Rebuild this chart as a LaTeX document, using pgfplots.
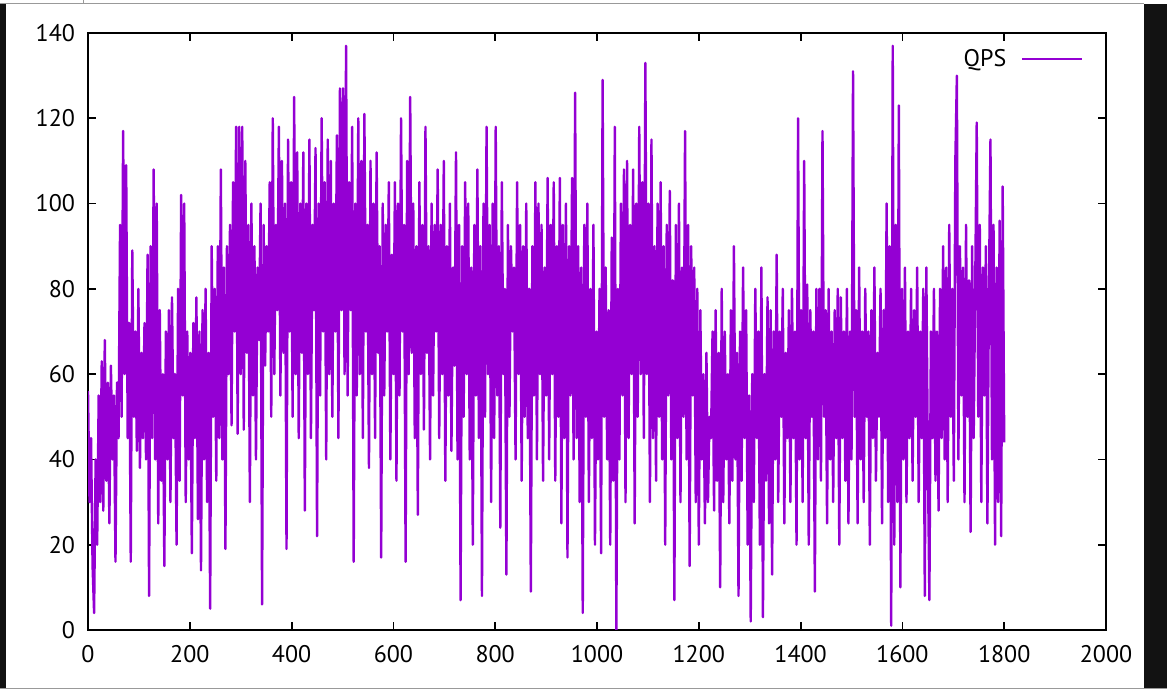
\documentclass[border=0pt]{standalone}
\usepackage{fontspec}
\setmainfont{PT Sans}
\usepackage{pgfplots}
\pgfplotsset{compat=1.18}
\definecolor{qps}{HTML}{9400D3}
\begin{document}
\begin{tikzpicture}
\useasboundingbox (0,0) rectangle (583.5pt,348pt);
\fill[white] (0,0) rectangle (583.5pt,348pt);
\fill[black!93] (0,4pt) rectangle (3pt,346pt);
\fill[black!93] (572pt,4pt) rectangle (583.5pt,346pt);
\draw[black!40, line width=0.5pt] (0,346pt) -- (572pt,346pt);
\draw[black!40, line width=0.5pt] (41.5pt,346pt) -- (41.5pt,348pt);
\draw[black!40, line width=0.5pt] (0,4pt) -- (583.5pt,4pt);
\begin{axis}[
  at={(44pt,33pt)}, anchor=south west,
  scale only axis, width=509pt, height=298.5pt,
  xmin=0, xmax=2000, ymin=0, ymax=140,
  xtick={0,200,...,2000}, ytick={0,20,...,140},
  tick align=inside, major tick length=4pt,
  axis line style={line width=1pt}, every tick/.style={line width=0.9pt, black},
  /pgf/number format/assume math mode=true,
  /pgf/number format/1000 sep={},
  scaled ticks=false,
  ticklabel style={font=\fontsize{12}{14}\selectfont},
  yticklabel style={xshift=-3pt},
  xticklabel style={yshift=-4pt},
  legend style={draw=none, fill=none, at={(0.984,0.9865)}, anchor=north east, font=\fontsize{12}{14}\selectfont},
  legend plot pos=right,
  legend image code/.code={\path[draw=none, fill=none] (0pt,-1pt) rectangle (36pt,1pt); \draw[#1, line width=1pt] (6pt,0pt) -- (36pt,0pt);},
]
\addplot[color=qps, line width=1.2pt, line join=round] table[x expr=\coordindex*3, y index=0, header=false] {
56
30
45
15
4
40
20
55
30
63
28
68
35
58
25
62
40
55
16
58
45
95
50
117
60
109
45
72
16
89
50
70
42
80
38
65
45
72
40
88
8
90
45
108
40
100
25
75
35
60
15
70
40
75
30
78
45
60
20
80
35
102
55
100
30
70
40
65
18
72
45
78
26
70
14
75
40
80
30
65
5
90
50
80
35
90
45
108
40
85
19
90
60
95
48
105
70
118
46
118
60
118
47
110
65
95
30
100
55
90
40
85
68
100
6
95
62
90
70
105
50
120
60
95
75
118
55
110
65
100
19
115
70
105
50
125
60
112
45
100
65
112
28
100
60
115
45
95
75
113
22
100
55
120
70
105
40
115
60
110
50
100
70
116
45
127
75
127
60
137
55
105
75
118
16
100
55
120
60
110
45
121
70
95
38
110
60
100
45
112
65
90
17
100
55
95
70
105
40
88
60
105
35
100
55
120
70
95
16
110
60
125
65
100
45
90
27
105
60
95
47
118
65
90
40
100
55
95
70
108
45
95
60
110
35
90
55
100
42
85
62
112
40
95
7
90
50
105
60
100
40
85
20
95
55
108
45
90
8
100
50
118
60
95
30
100
45
118
55
90
24
105
60
80
13
95
50
90
70
85
40
105
60
95
35
90
50
100
45
80
9
90
55
105
40
100
60
95
35
85
55
106
40
95
60
105
35
90
50
106
25
95
45
100
17
90
55
106
40
126
45
90
30
85
4
95
50
100
30
80
45
95
20
70
40
80
18
129
50
85
40
75
20
92
35
118
0
80
40
100
55
108
30
110
45
95
60
108
25
100
50
118
60
105
45
133
60
100
30
115
45
90
35
100
50
105
40
90
20
95
55
103
40
82
7
95
45
100
30
85
50
117
40
95
15
90
55
85
30
80
20
75
40
60
25
65
30
50
45
70
28
75
35
65
10
80
30
70
40
60
25
75
35
90
40
65
8
70
35
85
45
75
20
55
2
60
30
80
45
70
20
85
3
60
35
78
25
75
13
70
40
88
30
70
50
80
25
65
45
75
30
80
45
70
20
120
40
75
30
110
45
81
20
75
50
70
9
80
40
80
35
117
50
75
25
80
40
70
30
75
45
80
20
78
45
70
35
80
25
70
40
131
50
75
25
85
40
70
30
80
50
70
20
75
45
85
35
65
50
80
25
75
45
100
30
90
1
137
20
95
30
123
10
80
40
85
30
70
45
80
35
75
50
85
30
70
45
80
8
85
40
7
70
45
80
35
70
28
80
45
90
40
85
30
95
50
80
35
110
130
40
90
55
85
30
95
50
82
23
90
45
80
119
50
95
30
85
55
90
25
80
115
40
95
20
85
30
96
22
104
44
};
\addlegendentry{QPS}
\end{axis}
\end{tikzpicture}
\end{document}
